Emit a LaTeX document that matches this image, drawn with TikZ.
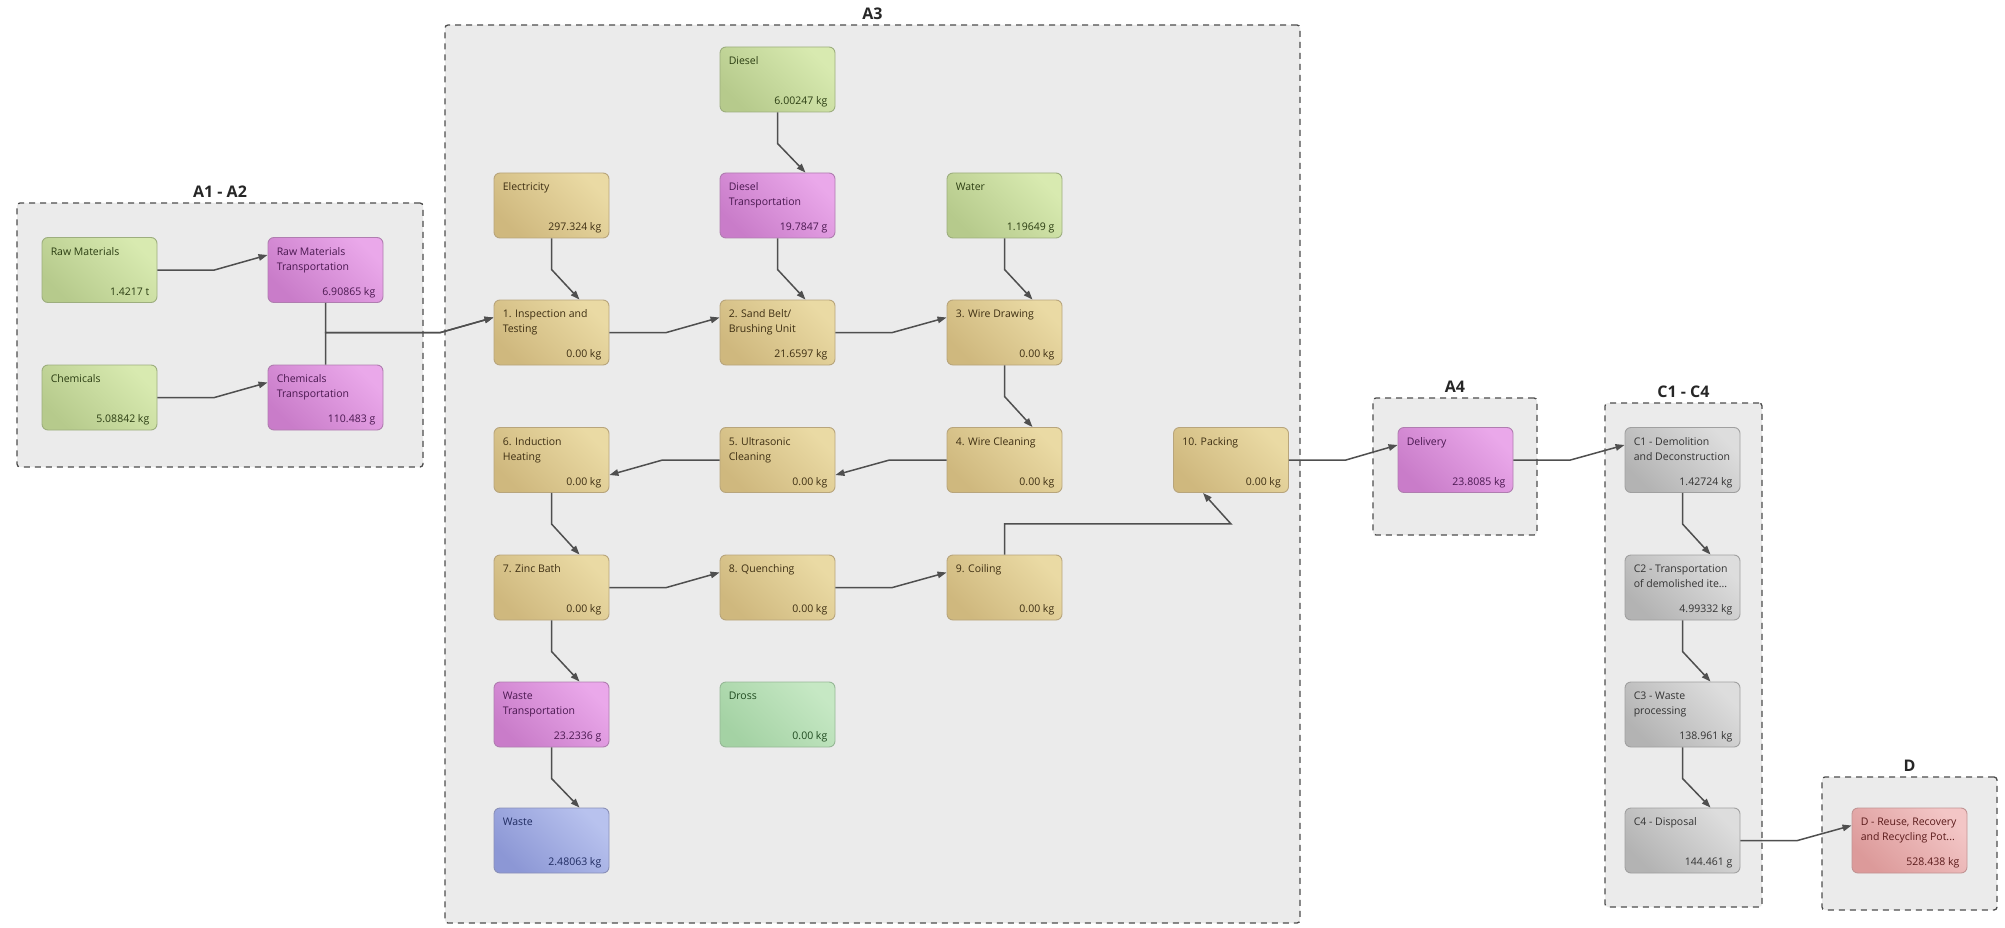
\documentclass[tikz,border=0pt]{standalone}
\usepackage{fontspec}
\setmainfont{Open Sans}
\usetikzlibrary{calc,arrows.meta}
\definecolor{grD}{HTML}{B6CA8C}\definecolor{grL}{HTML}{D8EAB0}\definecolor{grB}{HTML}{9DAE7E}\definecolor{grT}{HTML}{2B3D12}
\definecolor{mgD}{HTML}{C97CC9}\definecolor{mgL}{HTML}{EAA8EA}\definecolor{mgB}{HTML}{B07DB0}\definecolor{mgT}{HTML}{4A1850}
\definecolor{tnD}{HTML}{CFB87E}\definecolor{tnL}{HTML}{EADAA4}\definecolor{tnB}{HTML}{B8A57C}\definecolor{tnT}{HTML}{3D2E12}
\definecolor{drD}{HTML}{A4D2A4}\definecolor{drL}{HTML}{C6E8C4}\definecolor{drB}{HTML}{96B896}\definecolor{drT}{HTML}{1F4A1F}
\definecolor{blD}{HTML}{8C97D5}\definecolor{blL}{HTML}{B8C2EE}\definecolor{blB}{HTML}{8A90B8}\definecolor{blT}{HTML}{1E2A60}
\definecolor{gyD}{HTML}{B3B3B3}\definecolor{gyL}{HTML}{DDDDDD}\definecolor{gyB}{HTML}{A0A0A0}\definecolor{gyT}{HTML}{333333}
\definecolor{pkD}{HTML}{DC9A9A}\definecolor{pkL}{HTML}{F3C6C6}\definecolor{pkB}{HTML}{C29494}\definecolor{pkT}{HTML}{5A1A1A}
\definecolor{boxF}{HTML}{EBEBEB}\definecolor{boxB}{HTML}{4D4D4D}\definecolor{cline}{HTML}{4F4F4F}
\tikzset{
  blk/.style={minimum width=115pt, minimum height=65pt, rounded corners=6pt, inner sep=0pt, line width=0.9pt},
  gr/.style={blk, draw=grB, top color=grL, bottom color=grD, shading angle=-45},
  mg/.style={blk, draw=mgB, top color=mgL, bottom color=mgD, shading angle=-45},
  tn/.style={blk, draw=tnB, top color=tnL, bottom color=tnD, shading angle=-45},
  dr/.style={blk, draw=drB, top color=drL, bottom color=drD, shading angle=-45},
  bl/.style={blk, draw=blB, top color=blL, bottom color=blD, shading angle=-45},
  gy/.style={blk, draw=gyB, top color=gyL, bottom color=gyD, shading angle=-45},
  pk/.style={blk, draw=pkB, top color=pkL, bottom color=pkD, shading angle=-45},
  lbl/.style={anchor=north west, inner sep=0pt, align=left, font=\fontsize{10.5}{15}\selectfont},
  val/.style={anchor=base east, inner sep=0pt, font=\fontsize{10.5}{15}\selectfont},
  conn/.style={draw=cline, line width=1.5pt, -{Triangle[length=9pt,width=6.5pt]}},
  box/.style={draw=boxB, fill=boxF, dash pattern=on 6pt off 5pt, line width=1.3pt, rounded corners=3pt, inner sep=0pt},
  ttl/.style={anchor=base, inner sep=0pt, font=\fontsize{16}{18}\selectfont\bfseries, text=black!85}
}
\newcommand\mkblk[6]{%
  \node[#2] (#1) at (#3,#4) {};
  \node[lbl, text=#2T] (#1-l) at ([xshift=9pt,yshift=-7.5pt]#1.north west) {\strut #5};
  \node[val, text=#2T] (#1-v) at ([xshift=-8pt,yshift=7.5pt]#1.south east) {#6};
}
\newcommand\mkbox[6]{%
  \node[box, minimum width=#4pt, minimum height=#5pt] (#1) at (#2,#3) {};
  \node[ttl] (#1-t) at ([yshift=4.5pt]#1.north) {#6};
}
\newcommand\hcon[2]{\draw[conn] (#1.east) -- ++(57pt,0pt) -- ([yshift=15pt]#2.west);}
\newcommand\rcon[2]{\draw[conn] (#1.west) -- ++(-57pt,0pt) -- ([yshift=-15pt]#2.east);}
\newcommand\vcon[2]{\draw[conn] (#1.south) -- ++(0pt,-31pt) -- ([xshift=28pt]#2.north);}
\begin{document}
\begin{tikzpicture}[x=1pt,y=-1pt]
\useasboundingbox[fill=white] (0,0) rectangle (2005,928);
% containers
\mkbox{a12}{220}{335}{406}{264}{A1 - A2}
\mkbox{a3}{872.5}{474}{855}{898}{A3}
\mkbox{a4}{1455}{466.5}{164}{137}{A4}
\mkbox{c14}{1683.5}{655}{157}{504}{C1 - C4}
\mkbox{dbx}{1909.5}{843.5}{175}{133}{D}
% nodes
\mkblk{rm}{gr}{99.5}{270}{Raw Materials}{1.4217 t}
\mkblk{rmt}{mg}{325.5}{270}{Raw Materials\\Transportation}{6.90865 kg}
\mkblk{ch}{gr}{99.5}{397.5}{Chemicals}{5.08842 kg}
\mkblk{ct}{mg}{325.5}{397.5}{Chemicals\\Transportation}{110.483 g}
\mkblk{diesel}{gr}{777.5}{79.5}{Diesel}{6.00247 kg}
\mkblk{elec}{tn}{551.5}{205.5}{Electricity}{297.324 kg}
\mkblk{dt}{mg}{777.5}{205.5}{Diesel\\Transportation}{19.7847 g}
\mkblk{water}{gr}{1004.5}{205.5}{Water}{1.19649 g}
\mkblk{pa}{tn}{551.5}{332.5}{1. Inspection and\\Testing}{0.00 kg}
\mkblk{pb}{tn}{777.5}{332.5}{2. Sand Belt/\\Brushing Unit}{21.6597 kg}
\mkblk{pc}{tn}{1004.5}{332.5}{3. Wire Drawing}{0.00 kg}
\mkblk{pf}{tn}{551.5}{460}{6. Induction\\Heating}{0.00 kg}
\mkblk{pe}{tn}{777.5}{460}{5. Ultrasonic\\Cleaning}{0.00 kg}
\mkblk{pd}{tn}{1004.5}{460}{4. Wire Cleaning}{0.00 kg}
\mkblk{pj}{tn}{1231}{460}{10. Packing}{0.00 kg}
\mkblk{pg}{tn}{551.5}{587.5}{7. Zinc Bath}{0.00 kg}
\mkblk{ph}{tn}{777.5}{587.5}{8. Quenching}{0.00 kg}
\mkblk{pi}{tn}{1004.5}{587.5}{9. Coiling}{0.00 kg}
\mkblk{wt}{mg}{551.5}{714.5}{Waste\\Transportation}{23.2336 g}
\mkblk{dross}{dr}{777.5}{714.5}{Dross}{0.00 kg}
\mkblk{waste}{bl}{551.5}{840.5}{Waste}{2.48063 kg}
\mkblk{deliv}{mg}{1455.5}{460}{Delivery}{23.8085 kg}
\mkblk{ca}{gy}{1682.5}{460}{C1 - Demolition\\and Deconstruction}{1.42724 kg}
\mkblk{cb}{gy}{1682.5}{587.5}{C2 - Transportation\\of demolished ite...}{4.99332 kg}
\mkblk{cc}{gy}{1682.5}{714.5}{C3 - Waste\\processing}{138.961 kg}
\mkblk{cd}{gy}{1682.5}{840.5}{C4 - Disposal}{144.461 g}
\mkblk{dd}{pk}{1909.5}{840.5}{D - Reuse, Recovery\\and Recycling Pot...}{528.438 kg}
% connectors
\hcon{rm}{rmt}
\hcon{ch}{ct}
\coordinate (jn) at ([xshift=-53pt]pa.west);
\draw[conn] (rmt.south) |- (jn) -- ([yshift=15pt]pa.west);
\draw[conn] (ct.north) |- (jn) -- ([yshift=15pt]pa.west);
\vcon{elec}{pa}
\vcon{diesel}{dt}
\vcon{dt}{pb}
\vcon{water}{pc}
\hcon{pa}{pb}
\hcon{pb}{pc}
\vcon{pc}{pd}
\rcon{pd}{pe}
\rcon{pe}{pf}
\vcon{pf}{pg}
\hcon{pg}{ph}
\hcon{ph}{pi}
\vcon{pg}{wt}
\vcon{wt}{waste}
\draw[conn] (pi.north) |- ([yshift=-31pt]pj.south) -- ([xshift=-28pt]pj.south);
\hcon{pj}{deliv}
\hcon{deliv}{ca}
\vcon{ca}{cb}
\vcon{cb}{cc}
\vcon{cc}{cd}
\hcon{cd}{dd}
\end{tikzpicture}
\end{document}
